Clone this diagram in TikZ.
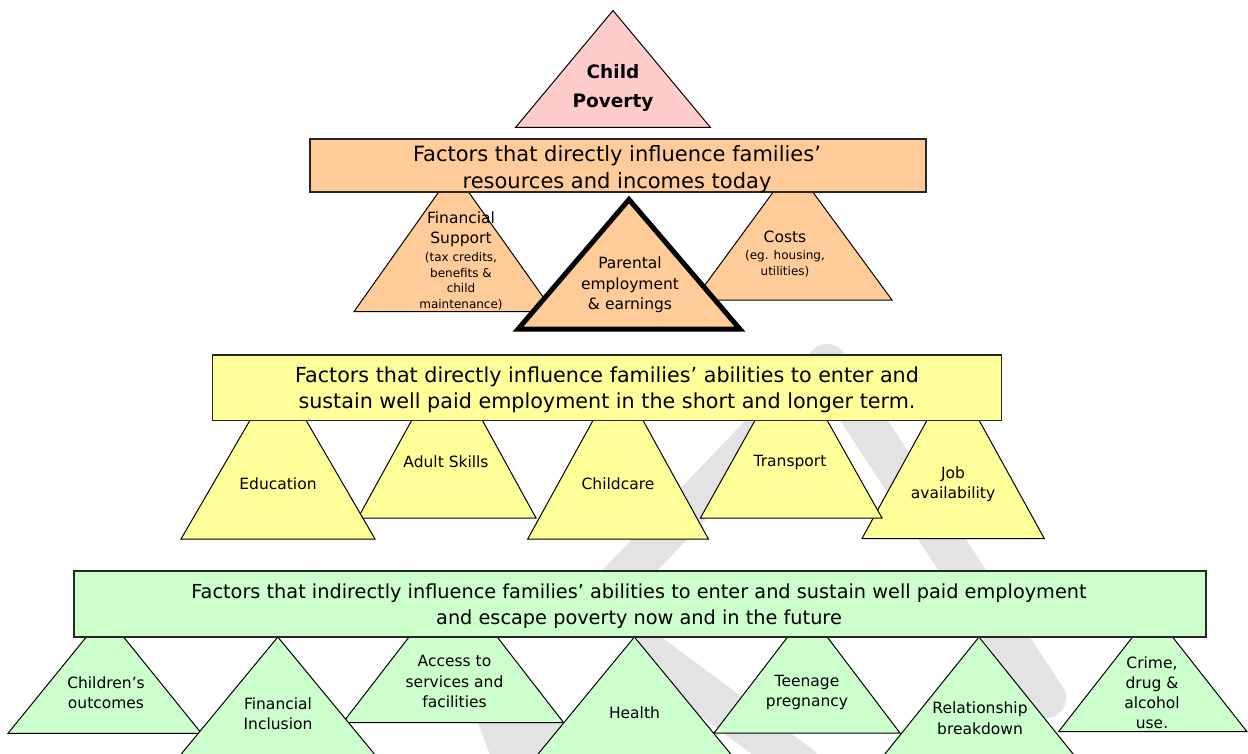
\documentclass[tikz,border=0pt]{standalone}
\usepackage{fontspec}
\setmainfont{DejaVu Sans}
\definecolor{pinkf}{HTML}{FFCCCC}
\definecolor{orangef}{HTML}{FFCC99}
\definecolor{yellowf}{HTML}{FFFF99}
\definecolor{greenf}{HTML}{CCFFCC}
\definecolor{wmcol}{HTML}{E3E3E3}
\tikzset{
  tri/.style={draw=black, line width=1, line join=miter},
  boxr/.style={draw=black!85, line width=1.3},
  wm/.style={draw=wmcol, line width=40, line cap=round, line join=round},
  btxt/.style={align=center, inner sep=0, font=\fontsize{20.7}{26.5}\selectfont},
  ttxt/.style={align=center, inner sep=0, font=\fontsize{15.5}{20.5}\selectfont},
  stxt/.style={align=center, inner sep=0, font=\fontsize{12}{15.5}\selectfont},
}
\begin{document}
\begin{tikzpicture}[x=1pt,y=-1pt]
\useasboundingbox (0,0) rectangle (1248,754);
\clip (0,0) rectangle (1248,754);
% watermark
\draw[wm] (1046,698) -- (827,364) -- (590,612);
\draw[wm] (652,655) -- (800,765);
\fill[wmcol] (478,723) -- (562,723) -- (548,760) -- (492,760) -- cycle;

% Child poverty
\filldraw[tri, fill=pinkf] (613,10.5) -- (710.5,127.5) -- (515.5,127.5) -- cycle;
\node[align=center, inner sep=0, font=\bfseries\fontsize{18.5}{29}\selectfont] (cp) at (613,88) {Child\\Poverty};

% orange level
\filldraw[tri, fill=orangef] (453.6,171) -- (553.5,311.6) -- (354,311.6) -- cycle;
\filldraw[tri, fill=orangef] (793,165) -- (892,300) -- (694,300) -- cycle;
\filldraw[boxr, fill=orangef] (310,139) rectangle (926,192);
\filldraw[draw=black, line width=5, line join=miter, fill=orangef] (629,199.5) -- (740,329.2) -- (518,329.2) -- cycle;
\node[btxt, font=\fontsize{21}{27}\selectfont] (ob) at (617,169) {Factors that directly influence families’\\resources and incomes today};
\node[ttxt] (fs1) at (461,229) {Financial\\Support};
\node[stxt] (fs2) at (461,281) {(tax credits,\\benefits \&\\child\\maintenance)};
\node[ttxt] (pe) at (630,285) {Parental\\employment\\\& earnings};
\node[ttxt] (co1) at (785,237) {Costs};
\node[stxt] (co2) at (785,263.5) {(eg. housing,\\utilities)};

% yellow level
\filldraw[tri, fill=yellowf] (953,373) -- (1044.3,538.5) -- (862,538.5) -- cycle;
\filldraw[tri, fill=yellowf] (447,356) -- (536,518) -- (358,518) -- cycle;
\filldraw[tri, fill=yellowf] (791,356) -- (882,518) -- (700.4,518) -- cycle;
\filldraw[tri, fill=yellowf] (278,372) -- (375,539) -- (181,539) -- cycle;
\filldraw[tri, fill=yellowf] (618,375) -- (708.4,539) -- (527.7,539) -- cycle;
\filldraw[boxr, fill=yellowf] (212.5,355) rectangle (1001.5,420.5);
\node[btxt] (yb) at (607,390) {Factors that directly influence families’ abilities to enter and\\sustain well paid employment in the short and longer term.};
\node[ttxt] (ed) at (278,484) {Education};
\node[ttxt] (as) at (446,462) {Adult Skills};
\node[ttxt] (cc) at (618,484) {Childcare};
\node[ttxt] (tr) at (790,462) {Transport};
\node[ttxt] (ja) at (953,484) {Job\\availability};

% green level
\filldraw[tri, fill=greenf] (105,614) -- (201.4,733.3) -- (8,733.3) -- cycle;
\filldraw[tri, fill=greenf] (453,580) -- (563.5,722.5) -- (343,722.5) -- cycle;
\filldraw[tri, fill=greenf] (807.5,611) -- (900,733) -- (714,733) -- cycle;
\filldraw[tri, fill=greenf] (1152.5,611.5) -- (1247,731.7) -- (1058.5,731.7) -- cycle;
\filldraw[tri, fill=greenf] (277.8,637) -- (387.6,770) -- (168,770) -- cycle;
\filldraw[tri, fill=greenf] (634.4,637) -- (743.9,770) -- (524.9,770) -- cycle;
\filldraw[tri, fill=greenf] (979,637) -- (1086,770) -- (872,770) -- cycle;
\filldraw[boxr, fill=greenf] (74,571) rectangle (1206,637);
\node[btxt, font=\fontsize{19.3}{26}\selectfont] (gb) at (639,606) {Factors that indirectly influence families’ abilities to enter and sustain well paid employment\\and escape poverty now and in the future};
\node[ttxt] (ch) at (106,692.5) {Children’s\\outcomes};
\node[ttxt] (fi) at (278,713.5) {Financial\\Inclusion};
\node[ttxt] (ac) at (454.5,681.5) {Access to\\services and\\facilities};
\node[ttxt] (he) at (634.5,712.5) {Health};
\node[ttxt] (tp) at (807,692.5) {Teenage\\pregnancy};
\node[ttxt] (rb) at (980,718) {Relationship\\breakdown};
\node[ttxt, font=\fontsize{15.5}{20}\selectfont] (cr) at (1152,692.5) {Crime,\\drug \&\\alcohol\\use.};
\end{tikzpicture}
\end{document}
